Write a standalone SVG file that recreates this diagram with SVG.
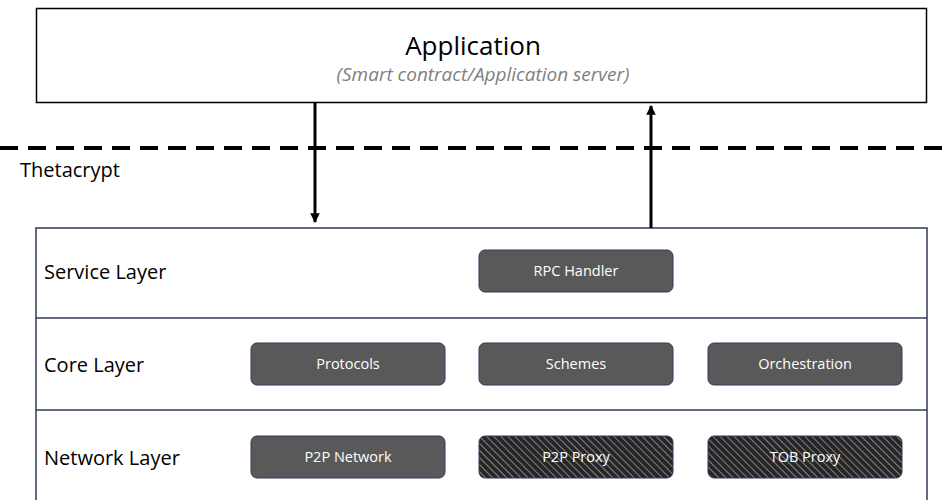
<svg xmlns="http://www.w3.org/2000/svg" width="944" height="500" viewBox="0 0 944 500">
<style>
.lbl{font-family:"Open Sans","Liberation Sans",sans-serif;fill:#000}
.node rect{fill:#595959;stroke:#2f3b5a;stroke-width:1}
.node rect.hatch{fill:url(#hatch)}
.node text{font-family:"Open Sans","Liberation Sans",sans-serif;font-size:14.5px;fill:#fff;text-anchor:middle}
.layer{fill:none;stroke:#2f3b5a;stroke-width:1.5}
.conn{stroke:#000;stroke-width:3;fill:none}
</style>
<defs>
<pattern id="hatch" patternUnits="userSpaceOnUse" width="5" height="5" patternTransform="rotate(-45)">
<rect width="5" height="5" fill="#262626"/>
<line x1="0" y1="0" x2="0" y2="5" stroke="#9a9a9a" stroke-width="1.6"/>
</pattern>
<marker id="ah" viewBox="0 0 10 10" refX="9" refY="5" markerWidth="3.2" markerHeight="3.2" orient="auto">
<path d="M0,0 L10,5 L0,10 z" fill="#000"/>
</marker>
</defs>
<rect width="944" height="500" fill="#fff"/>
<g id="application">
<rect x="36.5" y="8.5" width="890" height="94" fill="#fff" stroke="#000" stroke-width="1.5"/>
<text class="lbl" x="473" y="55" font-size="26" text-anchor="middle">Application</text>
<text x="483" y="81" font-family="'Open Sans','Liberation Sans',sans-serif" font-size="19" font-style="italic" fill="#808080" text-anchor="middle">(Smart contract/Application server)</text>
</g>
<line x1="0" y1="148" x2="944" y2="148" stroke="#000" stroke-width="4" stroke-dasharray="18,10"/>
<text class="lbl" x="20" y="177" font-size="20">Thetacrypt</text>
<g id="layers">
<rect class="layer" x="36" y="228" width="891" height="290"/>
<line class="layer" x1="36" y1="318" x2="927" y2="318"/>
<line class="layer" x1="36" y1="410" x2="927" y2="410"/>
<text class="lbl" x="44" y="279" font-size="20">Service Layer</text>
<text class="lbl" x="44" y="372" font-size="20">Core Layer</text>
<text class="lbl" x="44" y="465" font-size="20">Network Layer</text>
</g>
<g id="connectors">
<line class="conn" x1="315" y1="102" x2="315" y2="222" marker-end="url(#ah)"/>
<line class="conn" x1="651" y1="228" x2="651" y2="106" marker-end="url(#ah)"/>
</g>
<g id="rpc-handler" class="node"><rect x="479" y="250" width="194" height="42" rx="6"/><text x="576" y="276">RPC Handler</text></g>
<g id="protocols" class="node"><rect x="251" y="343" width="194" height="42" rx="6"/><text x="348" y="369">Protocols</text></g>
<g id="schemes" class="node"><rect x="479" y="343" width="194" height="42" rx="6"/><text x="576" y="369">Schemes</text></g>
<g id="orchestration" class="node"><rect x="708" y="343" width="194" height="42" rx="6"/><text x="805" y="369">Orchestration</text></g>
<g id="p2p-network" class="node"><rect x="251" y="436" width="194" height="42" rx="6"/><text x="348" y="462">P2P Network</text></g>
<g id="p2p-proxy" class="node"><rect class="hatch" x="479" y="436" width="194" height="42" rx="6"/><text x="576" y="462">P2P Proxy</text></g>
<g id="tob-proxy" class="node"><rect class="hatch" x="708" y="436" width="194" height="42" rx="6"/><text x="805" y="462">TOB Proxy</text></g>
</svg>
